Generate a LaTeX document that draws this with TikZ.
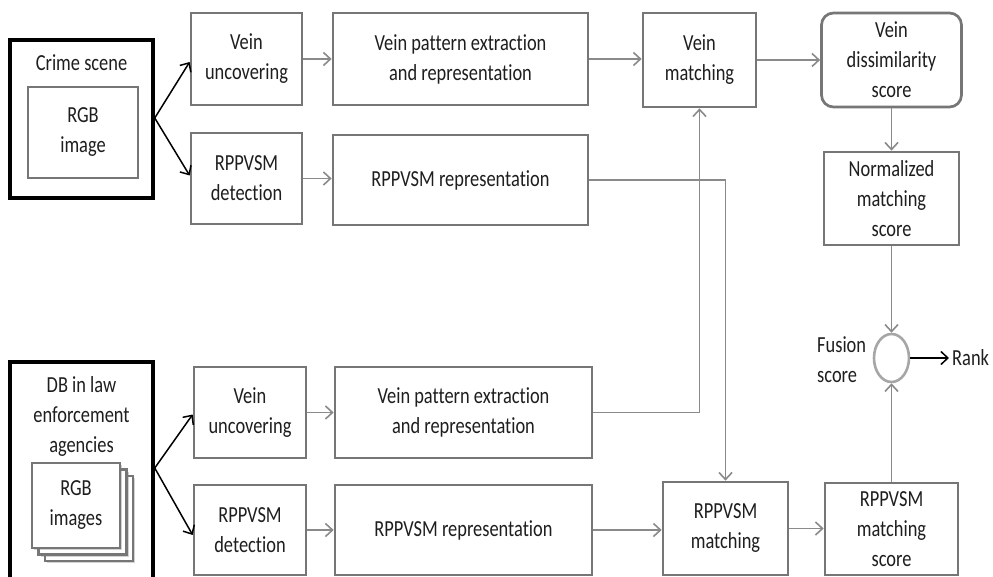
\documentclass[tikz,border=0pt]{standalone}
\usepackage{fontspec}
\setmainfont{Carlito}[FakeStretch=0.8, Ligatures=CommonOff]
\usetikzlibrary{arrows.meta,shapes.geometric,shadows}
\definecolor{boxgray}{HTML}{767676}
\definecolor{linegray}{HTML}{8A8A8A}
\definecolor{circgray}{HTML}{A6A6A6}
\definecolor{textc}{HTML}{1E1E1E}
\begin{document}
\begin{tikzpicture}[x=1pt,y=-1pt,
  box/.style={draw=boxgray, line width=2.7pt, fill=white, align=center, inner sep=0pt,
    font=\fontsize{23}{30}\selectfont, text=textc},
  bigbox/.style={draw=black, line width=3.5pt, inner sep=0pt},
  lbl/.style={align=center, inner sep=0pt, font=\fontsize{23}{30}\selectfont, text=textc},
  conn/.style={draw=linegray, line width=1.6pt, -{Straight Barb[length=7pt,width=13pt,line width=1.6pt]}},
  blk/.style={draw=black, line width=1.5pt, -{Straight Barb[length=7pt,width=13pt,line width=1.5pt]}},
  stackbox/.style={box, drop shadow={shadow xshift=2pt, shadow yshift=-2pt, opacity=0.35}}
]
\useasboundingbox (0,0) rectangle (993,577);

% Crime scene
\node[bigbox, minimum width=143pt, minimum height=158pt] (cs) at (81.5,119) {};
\node[lbl] (cstxt) at (81.5,63) {Crime scene};
\node[box, minimum width=110pt, minimum height=91pt] (rgb1) at (83,132.5) {RGB\\image};

% DB
\node[bigbox, minimum width=143pt, minimum height=228pt] (db) at (81.5,476) {};
\node[lbl] (dbtxt) at (81.5,416) {DB in law\\enforcement\\agencies};
\node[stackbox, minimum width=88pt, minimum height=85pt] (rgbc) at (89,518.5) {};
\node[stackbox, minimum width=88pt, minimum height=85pt] (rgbb) at (82.5,512) {};
\node[stackbox, minimum width=88pt, minimum height=85pt] (rgba) at (76,505.5) {RGB\\images};

% top row
\node[box, minimum width=111pt, minimum height=92pt] (vu1) at (246.5,59) {Vein\\uncovering};
\node[box, minimum width=111pt, minimum height=91pt] (rd1) at (246.5,178.5) {RPPVSM\\detection};
\node[box, minimum width=255pt, minimum height=92pt] (vp1) at (460.5,59) {Vein pattern extraction\\and representation};
\node[box, minimum width=255pt, minimum height=90pt] (rr1) at (460.5,180) {RPPVSM representation};
\node[box, minimum width=113pt, minimum height=94pt] (vm) at (699.5,60) {Vein\\matching};
\node[box, rounded corners=12pt, minimum width=140pt, minimum height=94pt] (vd) at (891.5,60) {Vein\\dissimilarity\\score};
\node[box, minimum width=135pt, minimum height=93pt] (nm) at (891.5,198.5) {Normalized\\matching\\score};

% bottom row
\node[box, minimum width=112pt, minimum height=91pt] (vu2) at (250,412.5) {Vein\\uncovering};
\node[box, minimum width=112pt, minimum height=90pt] (rd2) at (250,530) {RPPVSM\\detection};
\node[box, minimum width=257pt, minimum height=91pt] (vp2) at (463.5,412.5) {Vein pattern extraction\\and representation};
\node[box, minimum width=257pt, minimum height=90pt] (rr2) at (463.5,530) {RPPVSM representation};
\node[box, minimum width=125pt, minimum height=93pt] (rm) at (725.5,528.5) {RPPVSM\\matching};
\node[box, minimum width=133pt, minimum height=92pt] (rs) at (891.5,529) {RPPVSM\\matching\\score};

% fusion
\node[ellipse, draw=circgray, line width=2.6pt, minimum width=35pt, minimum height=48pt, inner sep=0pt] (fus) at (891.5,358) {};
\node[lbl, align=left, anchor=west] (fustxt) at (817,360) {Fusion\\score};
\node[lbl, anchor=west] (rank) at (952,358) {Rank};

% black input arrows
\draw[blk] ([yshift=1pt]cs.east) -- ([yshift=-3pt]vu1.west);
\draw[blk] ([yshift=1pt]cs.east) -- ([yshift=3pt]rd1.west);
\draw[blk] ([yshift=8pt]db.east) -- ([yshift=-2pt]vu2.west);
\draw[blk] ([yshift=8pt]db.east) -- ([yshift=-5pt]rd2.west);

% gray connectors
\draw[conn] (vu1.east) -- (vp1.west);
\draw[conn] (rd1.east) -- (rd1.east -| rr1.west);
\draw[conn] (vp1.east) -- (vp1.east -| vm.west);
\draw[conn] (vm.east) -- (vd.west);
\draw[conn] (vd.south) -- (nm.north);
\draw[conn] (nm.south) -- (fus.north);
\draw[conn] (rs.north) -- (fus.south);
\draw[conn] (rr1.east) -| (rm.north);
\draw[conn] (vp2.east) -| (vm.south);
\draw[conn] (vu2.east) -- (vp2.west);
\draw[conn] (rd2.east) -- (rr2.west);
\draw[conn] (rr2.east) -- (rr2.east -| rm.west);
\draw[conn] (rm.east) -- (rm.east -| rs.west);
\draw[blk] (fus.east) -- ([xshift=-3pt]rank.west);
\end{tikzpicture}
\end{document}
